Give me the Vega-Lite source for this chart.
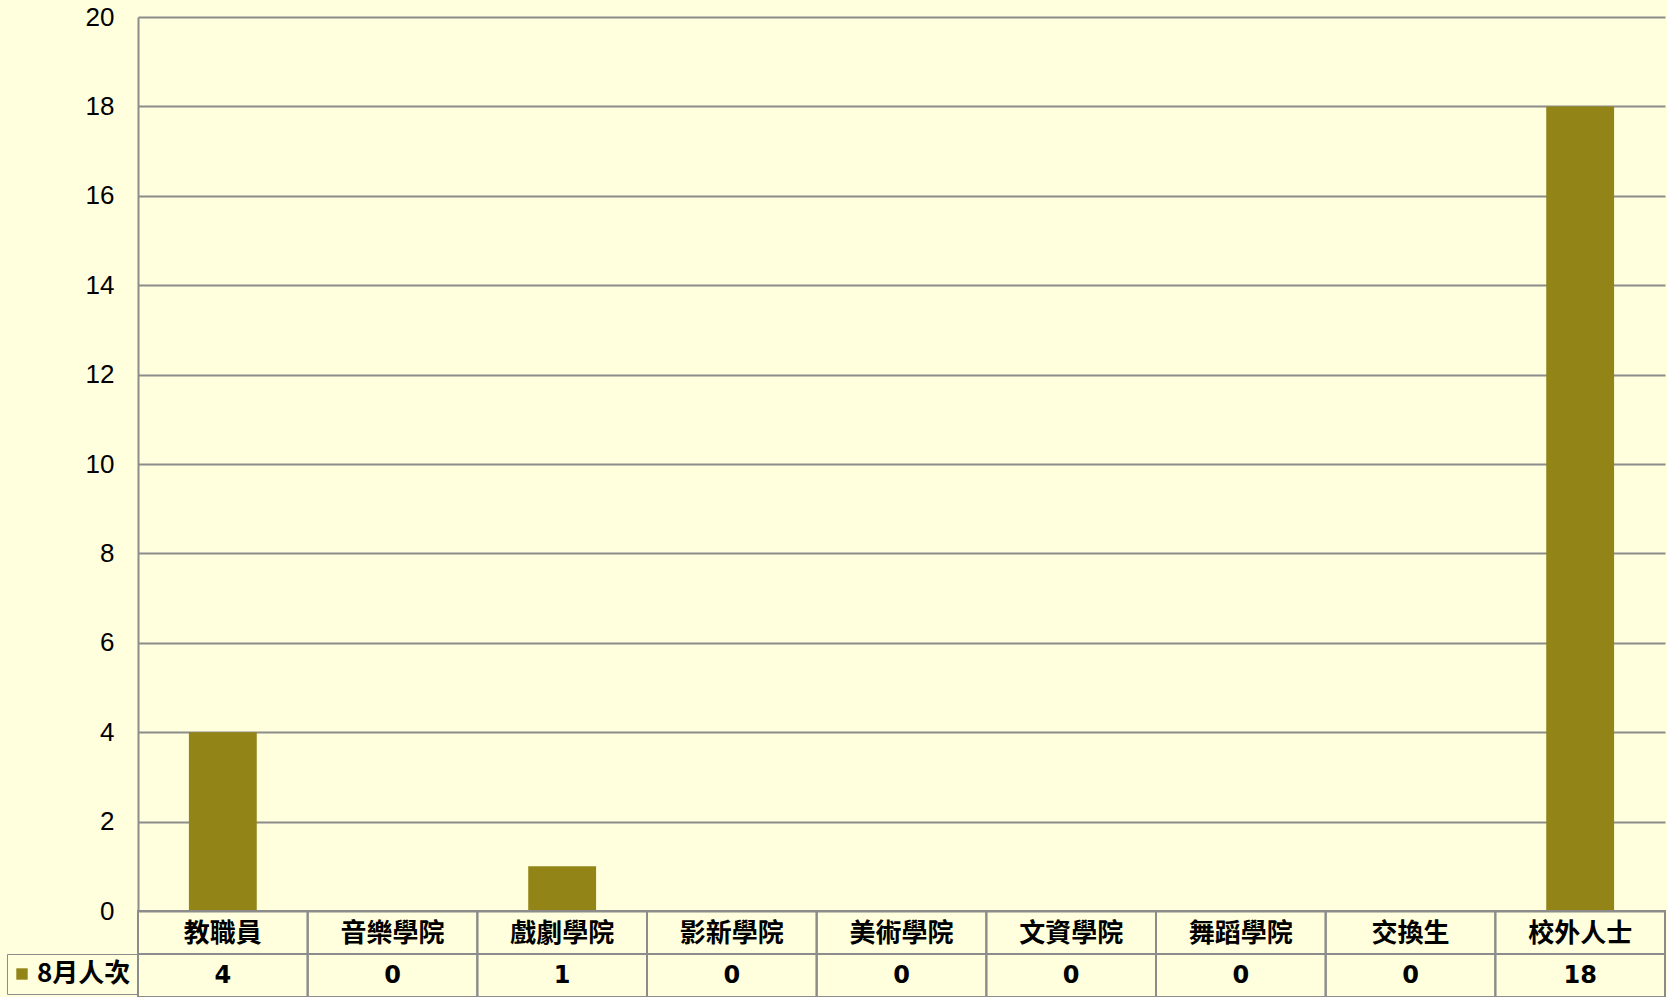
{
  "$schema": "https://vega.github.io/schema/vega-lite/v6.json",
  "background": "#FFFFDD",
  "padding": {"left": 6, "top": 4, "right": 2, "bottom": 0},
  "autosize": {"type": "pad"},
  "bounds": "flush",
  "spacing": 0,
  "data": {
    "values": [
      {"category": "教職員", "series": "8月人次", "count": 4},
      {"category": "音樂學院", "series": "8月人次", "count": 0},
      {"category": "戲劇學院", "series": "8月人次", "count": 1},
      {"category": "影新學院", "series": "8月人次", "count": 0},
      {"category": "美術學院", "series": "8月人次", "count": 0},
      {"category": "文資學院", "series": "8月人次", "count": 0},
      {"category": "舞蹈學院", "series": "8月人次", "count": 0},
      {"category": "交換生", "series": "8月人次", "count": 0},
      {"category": "校外人士", "series": "8月人次", "count": 18}
    ]
  },
  "config": {
    "view": {"stroke": null},
    "font": "Liberation Sans, Noto Sans CJK TC",
    "axis": {"labelFont": "Liberation Sans, Noto Sans CJK TC"}
  },
  "vconcat": [
    {
      "width": 1527,
      "height": 894,
      "mark": {"type": "bar", "color": "#938418"},
      "encoding": {
        "x": {
          "field": "category",
          "type": "nominal",
          "sort": null,
          "scale": {"paddingInner": 0.6, "paddingOuter": 0.3},
          "axis": null
        },
        "y": {
          "field": "count",
          "type": "quantitative",
          "scale": {"domain": [0, 20], "nice": false},
          "axis": {
            "title": null,
            "values": [0, 2, 4, 6, 8, 10, 12, 14, 16, 18, 20],
            "labelFontSize": 26,
            "labelColor": "#000000",
            "labelPadding": 24,
            "ticks": false,
            "grid": true,
            "gridColor": "#8C8C8C",
            "gridWidth": 2,
            "gridOpacity": 1,
            "domainColor": "#8C8C8C",
            "domainWidth": 2
          }
        }
      }
    },
    {
      "width": 1527,
      "height": 43,
      "encoding": {
        "x": {
          "field": "category",
          "type": "nominal",
          "sort": null,
          "scale": {"paddingInner": 0, "paddingOuter": 0},
          "axis": null
        }
      },
      "layer": [
        {
          "mark": {"type": "bar", "fill": "transparent", "stroke": "#8C8C8C", "strokeWidth": 2}
        },
        {
          "mark": {"type": "text", "fontSize": 26, "font": "Noto Sans CJK TC", "fontWeight": "bold", "color": "#000000", "baseline": "middle", "dy": 1},
          "encoding": {
            "text": {"field": "category", "type": "nominal"}
          }
        }
      ]
    },
    {
      "width": 1527,
      "height": 43,
      "encoding": {
        "x": {
          "field": "category",
          "type": "nominal",
          "sort": null,
          "scale": {"paddingInner": 0, "paddingOuter": 0},
          "axis": null
        }
      },
      "layer": [
        {
          "mark": {"type": "bar", "fill": "transparent", "stroke": "#8C8C8C", "strokeWidth": 2}
        },
        {
          "mark": {"type": "square", "size": 0, "opacity": 0},
          "encoding": {
            "color": {
              "field": "series",
              "type": "nominal",
              "scale": {"range": ["#938418"]},
              "legend": {
                "title": null,
                "orient": "left",
                "offset": 0,
                "padding": 7,
                "strokeColor": "#8C8C8C",
                "symbolType": "square",
                "symbolSize": 130,
                "symbolOffset": -5,
                "symbolOpacity": 1,
                "symbolFillColor": "#938418",
                "symbolStrokeWidth": 0,
                "labelFontSize": 26,
                "labelFont": "Noto Sans CJK TC",
                "labelFontWeight": "bold",
                "labelColor": "#000000",
                "labelOffset": 2
              }
            }
          }
        },
        {
          "mark": {"type": "text", "fontSize": 24, "font": "DejaVu Sans", "fontWeight": "bold", "color": "#000000", "baseline": "middle"},
          "encoding": {
            "text": {"field": "count", "type": "quantitative"}
          }
        }
      ]
    }
  ],
  "resolve": {"scale": {"x": "independent", "y": "independent", "color": "independent"}, "legend": {"color": "independent"}}
}
